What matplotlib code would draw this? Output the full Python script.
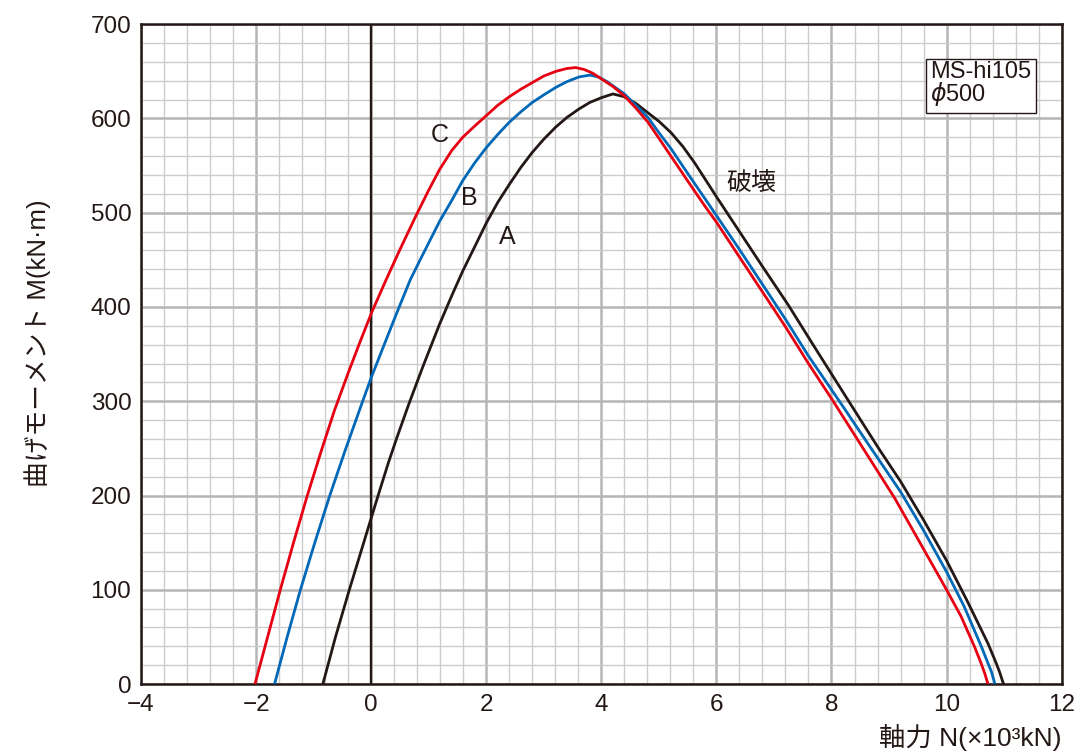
import matplotlib
matplotlib.use("Agg")
import matplotlib.pyplot as plt
from matplotlib.ticker import MultipleLocator

plt.rcParams['font.family'] = ['Liberation Sans', 'Noto Sans CJK JP', 'DejaVu Sans']

# curve A (black)
n_a = [-0.84, -0.62, -0.38, -0.18, 0.0, 0.1, 0.3, 0.45, 0.66, 0.9, 1.19, 1.4, 1.59, 1.8, 2.0,
       2.2, 2.4, 2.6, 2.8, 3.0, 3.21, 3.4, 3.61, 3.8, 4.0, 4.2, 4.4, 4.6, 4.81, 5.0, 5.21,
       5.42, 5.62, 5.8, 6.0, 6.4, 6.8, 7.25, 7.7, 8.3, 8.83, 9.2, 9.6, 10.0, 10.36, 10.72,
       10.85, 10.92, 10.99]
m_a = [0, 50, 100, 140, 176, 196, 235, 262, 298, 337, 382, 412, 438, 464, 489,
       511, 530, 548, 564, 578, 591, 601, 610, 617, 622, 626, 623, 616, 606, 597, 585,
       570, 553, 536, 517, 480, 443, 402, 358, 300, 249, 215, 174, 131, 88, 43,
       24, 13, 0]

# curve B (blue)
n_b = [-1.68, -1.46, -1.23, -0.98, -0.72, -0.44, -0.16, 0.0, 0.2, 0.44, 0.68, 0.9, 1.19,
       1.4, 1.59, 1.8, 2.0, 2.2, 2.4, 2.6, 2.8, 3.0, 3.21, 3.4, 3.61, 3.8, 3.95, 4.1, 4.4,
       4.6, 4.81, 5.0, 5.21, 5.42, 5.62, 5.8, 6.0, 6.4, 6.8, 7.2, 7.6, 8.16, 8.7, 9.2, 9.6,
       10.0, 10.3, 10.61, 10.72, 10.78, 10.84]
m_b = [0, 50, 100, 150, 200, 250, 298, 325, 356, 393, 429, 456, 491,
       513, 534, 553, 569, 583, 596, 607, 617, 625, 633, 639, 644, 646, 644, 639, 626,
       614, 601, 585, 568, 549, 531, 515, 497, 461, 424, 387, 348, 298, 249, 204, 163,
       119, 83, 39, 22, 13, 0]

# curve C (red)
n_c = [-2.02, -1.8, -1.58, -1.35, -1.12, -0.88, -0.64, -0.4, -0.2, 0.0, 0.26, 0.5, 0.78,
       1.0, 1.19, 1.4, 1.59, 1.8, 2.0, 2.2, 2.4, 2.6, 2.8, 3.0, 3.21, 3.4, 3.55, 3.7, 3.85,
       4.0, 4.2, 4.4, 4.6, 4.81, 5.0, 5.21, 5.42, 5.62, 5.8, 6.0, 6.4, 6.8, 7.2, 7.6, 8.03,
       8.56, 9.1, 9.5, 10.0, 10.25, 10.49, 10.6, 10.66, 10.72]
m_c = [0, 50, 100, 150, 198, 245, 290, 330, 362, 393, 429, 461, 497,
       524, 546, 566, 580, 592, 603, 614, 623, 631, 638, 645, 650, 653, 654, 652, 648,
       642, 634, 624, 611, 596, 579, 560, 541, 523, 507, 490, 453, 416, 379, 340, 300,
       249, 197, 154, 100, 72, 39, 22, 12, 0]

fig = plt.figure(figsize=(10.8, 7.56), dpi=100)
ax = fig.add_axes([0.1306, 0.0952, 0.8524, 0.8728])

ax.set_xlim(-4, 12)
ax.set_ylim(0, 700)
ax.xaxis.set_major_locator(MultipleLocator(2))
ax.xaxis.set_minor_locator(MultipleLocator(0.4))
ax.yaxis.set_major_locator(MultipleLocator(100))
ax.yaxis.set_minor_locator(MultipleLocator(20))
ax.grid(True, which='minor', color='#cccccc', lw=1.0, zorder=0)
ax.grid(True, which='major', color='#b5b5b5', lw=1.8, zorder=0)
ax.set_axisbelow(True)
ax.tick_params(which='both', length=0, labelsize=17.5, colors='#231815', pad=7)
for s in ax.spines.values():
    s.set_color('#231815')
    s.set_linewidth(1.8)

ax.axvline(0, color='#231815', lw=1.7, zorder=2)

ax.plot(n_a, m_a, color='#231815', lw=2.0, zorder=3, solid_joinstyle='round')
ax.plot(n_b, m_b, color='#0068b7', lw=2.0, zorder=3, solid_joinstyle='round')
ax.plot(n_c, m_c, color='#e60012', lw=2.0, zorder=3, solid_joinstyle='round')

ax.text(1.2, 582, 'C', fontsize=18, ha='center', va='center', color='#231815')
ax.text(1.71, 516, 'B', fontsize=18, ha='center', va='center', color='#231815')
ax.text(2.36, 474, 'A', fontsize=18, ha='center', va='center', color='#231815')
ax.text(6.6, 532, '破壊', fontsize=18, ha='center', va='center', color='#231815')
ax.text(9.72, 636, 'MS-hi105\n$\\phi$500', fontsize=17, ha='left', va='center',
        color='#231815', linespacing=0.88,
        bbox=dict(boxstyle='square,pad=0.18', fc='white', ec='#231815', lw=1.0))

ax.set_xticks([-4, -2, 0, 2, 4, 6, 8, 10, 12])
ax.set_xticklabels(['−4', '−2', '0', '2', '4', '6', '8', '10', '12'])

fig.text(0.983, 0.024, '軸力 N(×10³kN)', fontsize=19, ha='right', va='center', color='#231815')
fig.text(0.035, 0.546, '曲げモーメント M(kN·m)', fontsize=18.5, rotation=90,
         ha='center', va='center', color='#231815')

fig.savefig('out.png', dpi=100)
